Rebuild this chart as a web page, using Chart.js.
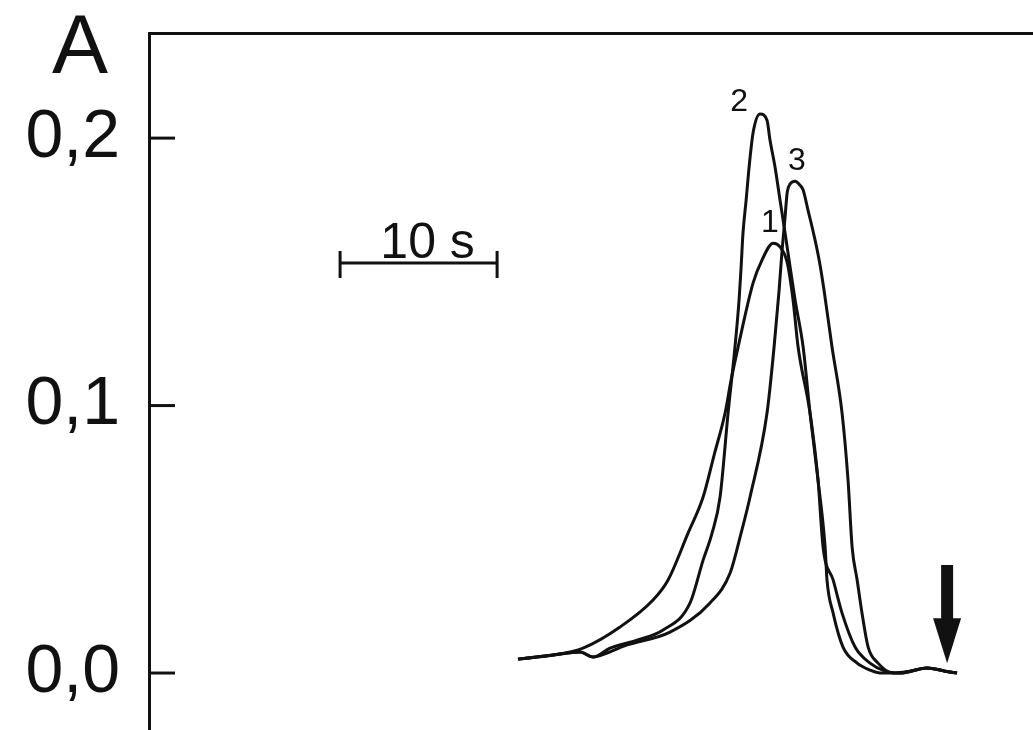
<!DOCTYPE html>
<html>
<head>
<meta charset="utf-8">
<title>Absorbance traces</title>
<script src="https://cdn.jsdelivr.net/npm/chart.js@4/dist/chart.umd.min.js"></script>
<style>
  body { margin: 0; background: #fff; }
  #wrap { position: relative; width: 1033px; height: 730px; }
  #panel { position: absolute; left: 52px; top: -4px; font: 84px "Liberation Sans", Arial, sans-serif; color: #111; }
</style>
</head>
<body>
<div id="wrap">
  <canvas id="trace" width="1033" height="730"></canvas>
  <div id="panel">A</div>
</div>
<script>
// time in seconds, absorbance units
const curve1Time = [23.50, 25.73, 27.64, 30.00, 32.10, 33.06, 34.33, 35.29, 35.99, 36.69, 37.07, 37.52, 38.47, 39.04, 39.75, 40.19, 40.64, 41.02, 41.34, 42.10, 42.61, 42.93, 43.57, 44.14, 44.97, 45.92, 46.88, 47.83, 49.55, 50.70, 51.46];
const curve1Abs  = [0.0052, 0.0067, 0.0093, 0.0172, 0.0273, 0.0348, 0.0523, 0.0658, 0.0815, 0.0972, 0.1095, 0.1219, 0.1458, 0.1544, 0.1607, 0.1593, 0.1536, 0.1394, 0.1219, 0.0972, 0.0721, 0.0471, 0.0348, 0.0224, 0.0097, 0.0037, 0.0007, 0.0000, 0.0019, 0.0007, 0.0000];

const curve2Time = [23.50, 25.73, 27.45, 28.28, 29.36, 31.08, 32.74, 34.46, 35.29, 35.86, 36.37, 36.88, 37.32, 37.58, 37.71, 37.83, 38.03, 38.22, 38.47, 38.92, 39.36, 39.55, 39.87, 40.19, 40.51, 40.83, 41.15, 41.66, 42.10, 42.61, 43.06, 43.18, 43.57, 44.20, 45.10, 45.92, 46.56, 47.83, 49.55, 50.70, 51.46];
const curve2Abs  = [0.0052, 0.0067, 0.0079, 0.0060, 0.0093, 0.0123, 0.0161, 0.0262, 0.0422, 0.0523, 0.0658, 0.0972, 0.1219, 0.1394, 0.1518, 0.1645, 0.1768, 0.1892, 0.2019, 0.2090, 0.2067, 0.1993, 0.1892, 0.1768, 0.1645, 0.1518, 0.1394, 0.1219, 0.0972, 0.0721, 0.0471, 0.0348, 0.0224, 0.0097, 0.0037, 0.0011, 0.0000, 0.0000, 0.0019, 0.0007, 0.0000];

const curve3Time = [23.50, 25.73, 27.45, 28.28, 29.17, 30.45, 33.18, 35.73, 37.01, 37.71, 38.28, 39.36, 39.81, 40.13, 40.32, 40.51, 40.64, 40.83, 41.15, 41.46, 41.66, 41.97, 42.42, 42.74, 42.99, 43.50, 44.14, 44.52, 44.78, 45.10, 45.41, 45.80, 46.43, 47.39, 48.47, 49.55, 50.70, 51.46];
const curve3Abs  = [0.0052, 0.0067, 0.0079, 0.0060, 0.0075, 0.0105, 0.0153, 0.0262, 0.0374, 0.0523, 0.0658, 0.0972, 0.1219, 0.1432, 0.1581, 0.1705, 0.1794, 0.1828, 0.1839, 0.1824, 0.1806, 0.1731, 0.1619, 0.1525, 0.1432, 0.1219, 0.0972, 0.0721, 0.0471, 0.0348, 0.0224, 0.0097, 0.0037, 0.0000, 0.0007, 0.0019, 0.0007, 0.0000];

const yTicks = [0, 0.1, 0.2];
const yTickLabels = ['0,0', '0,1', '0,2'];

const curveNames = ['1', '2', '3'];
const curveLabelTime = [39.55, 37.58, 41.27];
const curveLabelAbs  = [0.1682, 0.2135, 0.1914];

// 10 s scale bar and the arrow marking the end
const scaleBarStart = 12.17, scaleBarLength = 10, scaleBarAbs = 0.1533;
const arrowTime = 50.83, arrowTipAbs = 0.0037, arrowTailAbs = 0.0404;

const ink = '#111';
const font = '"Liberation Sans", Arial, sans-serif';

function toPoints(ts, as) {
  return ts.map((t, i) => ({ x: t, y: as[i] }));
}

const extras = {
  id: 'extras',
  afterDraw(chart) {
    const ctx = chart.ctx;
    const xs = chart.scales.x, ys = chart.scales.y;
    const area = chart.chartArea;
    ctx.save();
    ctx.strokeStyle = ink;
    ctx.fillStyle = ink;
    ctx.lineWidth = 3;
    ctx.lineCap = 'butt';

    // inward tick marks
    ys.ticks.forEach(tk => {
      const y = ys.getPixelForValue(tk.value);
      ctx.beginPath();
      ctx.moveTo(area.left, y);
      ctx.lineTo(area.left + 26, y);
      ctx.stroke();
    });

    // curve numbers
    ctx.font = '32px ' + font;
    ctx.textAlign = 'center';
    ctx.textBaseline = 'middle';
    curveNames.forEach((n, i) => {
      ctx.fillText(n, xs.getPixelForValue(curveLabelTime[i]), ys.getPixelForValue(curveLabelAbs[i]));
    });

    // scale bar
    const x0 = xs.getPixelForValue(scaleBarStart);
    const x1 = xs.getPixelForValue(scaleBarStart + scaleBarLength);
    const yb = ys.getPixelForValue(scaleBarAbs);
    ctx.beginPath();
    ctx.moveTo(x0, yb); ctx.lineTo(x1, yb);
    ctx.moveTo(x0, yb - 12); ctx.lineTo(x0, yb + 15);
    ctx.moveTo(x1, yb - 12); ctx.lineTo(x1, yb + 15);
    ctx.stroke();
    ctx.font = '50px ' + font;
    ctx.textBaseline = 'alphabetic';
    ctx.fillText('10 s', (x0 + x1) / 2 + 9, yb - 5);

    // arrow
    const ax = xs.getPixelForValue(arrowTime);
    const tip = ys.getPixelForValue(arrowTipAbs);
    const tail = ys.getPixelForValue(arrowTailAbs);
    ctx.fillRect(ax - 6, tail, 12, tip - tail - 40);
    ctx.beginPath();
    ctx.moveTo(ax - 14, tip - 45);
    ctx.lineTo(ax + 14, tip - 45);
    ctx.lineTo(ax, tip);
    ctx.closePath();
    ctx.fill();
    ctx.restore();
  }
};

const lineStyle = {
  borderColor: ink,
  borderWidth: 3,
  pointRadius: 0,
  fill: false,
  cubicInterpolationMode: 'monotone'
};

new Chart(document.getElementById('trace'), {
  type: 'line',
  data: {
    datasets: [
      Object.assign({ label: curveNames[0], data: toPoints(curve1Time, curve1Abs) }, lineStyle),
      Object.assign({ label: curveNames[1], data: toPoints(curve2Time, curve2Abs) }, lineStyle),
      Object.assign({ label: curveNames[2], data: toPoints(curve3Time, curve3Abs) }, lineStyle)
    ]
  },
  options: {
    responsive: false,
    animation: false,
    devicePixelRatio: 1,
    layout: { padding: 0 },
    plugins: { legend: { display: false }, tooltip: { enabled: false } },
    scales: {
      x: {
        type: 'linear',
        position: 'top',
        min: 0,
        max: 56.3,
        ticks: { display: false },
        grid: { display: false, drawTicks: false },
        border: { display: true, color: ink, width: 3 },
        afterFit: s => { s.height = 33; s.paddingLeft = 0; s.paddingRight = 0; }
      },
      y: {
        type: 'linear',
        min: -0.0213,
        max: 0.2393,
        afterBuildTicks: s => { s.ticks = yTicks.map(v => ({ value: v })); },
        ticks: {
          callback: (v, i) => yTickLabels[i],
          font: { family: font, size: 68 },
          color: ink,
          padding: 29
        },
        grid: { display: false, drawTicks: false },
        border: { display: true, color: ink, width: 3 },
        afterFit: s => { s.width = 149; s.paddingTop = 0; s.paddingBottom = 0; }
      }
    }
  },
  plugins: [extras]
});
</script>
</body>
</html>
